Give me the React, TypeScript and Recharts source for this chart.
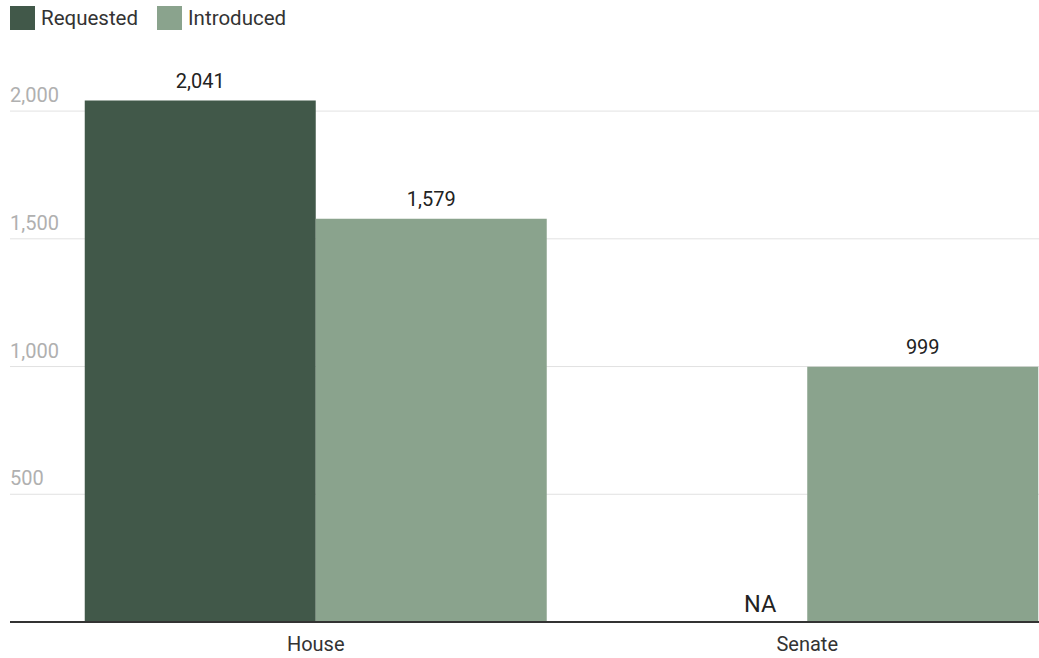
import React from "react";
import { BarChart, Bar, XAxis, YAxis, CartesianGrid, LabelList } from "recharts";

const categories = ["House", "Senate"];
const requested: (number | null)[] = [2041, null];
const introduced: number[] = [1579, 999];
const yTicks = [0, 500, 1000, 1500, 2000];
const gridValues = [500, 1000, 1500, 2000];
const seriesNames = ["Requested", "Introduced"];

const data = categories.map((c, i) => ({ cat: c, requested: requested[i], introduced: introduced[i] }));

const DARK = "#415849";
const LIGHT = "#8aa38d";
const COLORS = [DARK, LIGHT];
const FONT = "Roboto, sans-serif";

const fmt = (v: number) => v.toLocaleString("en-US");

const YTick = (props: any) => {
  const { x, y, payload } = props;
  if (payload.value === 0) return null;
  return (
    <text x={x} y={y - 9} fill="#b0b0b0" fontSize={20} fontFamily={FONT} textAnchor="start">
      {fmt(payload.value)}
    </text>
  );
};

const XTick = (props: any) => {
  const { x, y, payload } = props;
  return (
    <text x={x} y={y + 21} fill="#333" fontSize={20} fontFamily={FONT} textAnchor="middle">
      {payload.value}
    </text>
  );
};

const ValueLabel = (props: any) => {
  const { x, y, width, value } = props;
  return (
    <text x={x + width / 2} y={y - 13} fill="#222" fontSize={20} fontFamily={FONT} textAnchor="middle">
      {fmt(value)}
    </text>
  );
};

const IntroLabel = (props: any) => {
  const { x, y, width, height, value } = props;
  let idx = props.index;
  if (idx == null) idx = introduced.indexOf(value);
  const missing = idx != null && idx >= 0 && requested[idx] == null;
  return (
    <g>
      <text x={x + width / 2} y={y - 13} fill="#222" fontSize={20} fontFamily={FONT} textAnchor="middle">
        {fmt(value)}
      </text>
      {missing && (
        <text x={x - 31} y={y + height - 10} fill="#222" fontSize={23.5} fontFamily={FONT} textAnchor="end">
          NA
        </text>
      )}
    </g>
  );
};

export default function App() {
  return (
    <div style={{ position: "absolute", left: 0, top: 0, width: 1039, height: 658, overflow: "hidden", background: "#fff" }}>
      <div style={{ position: "absolute", top: 6, left: 10, display: "flex", alignItems: "center", fontFamily: FONT, zIndex: 2 }}>
        {seriesNames.map((n, i) => (
          <div key={n} style={{ display: "flex", alignItems: "center", marginRight: 19 }}>
            <div style={{ width: 25, height: 24, background: COLORS[i], marginRight: 6 }} />
            <span style={{ fontSize: 20.5, color: "#333" }}>{n}</span>
          </div>
        ))}
      </div>
      <BarChart
        width={1053}
        height={658}
        data={data}
        margin={{ top: 60, right: 0, left: -50, bottom: 0 }}
        barCategoryGap="3%"
        barGap={0}
      >
        <CartesianGrid vertical={false} stroke="#e2e2e2" horizontalValues={gridValues} />
        <XAxis
          dataKey="cat"
          height={36}
          padding={{ left: 60, right: 0 }}
          axisLine={{ stroke: "#333", strokeWidth: 2 }}
          tickLine={false}
          tick={<XTick />}
        />
        <YAxis
          width={60}
          domain={[0, 2200]}
          ticks={yTicks}
          interval={0}
          axisLine={false}
          tickLine={false}
          tickSize={0}
          tickMargin={0}
          tick={<YTick />}
        />
        <Bar dataKey="requested" name="Requested" fill={DARK} isAnimationActive={false}>
          <LabelList dataKey="requested" content={<ValueLabel />} />
        </Bar>
        <Bar dataKey="introduced" name="Introduced" fill={LIGHT} isAnimationActive={false}>
          <LabelList dataKey="introduced" content={<IntroLabel />} />
        </Bar>
      </BarChart>
    </div>
  );
}
